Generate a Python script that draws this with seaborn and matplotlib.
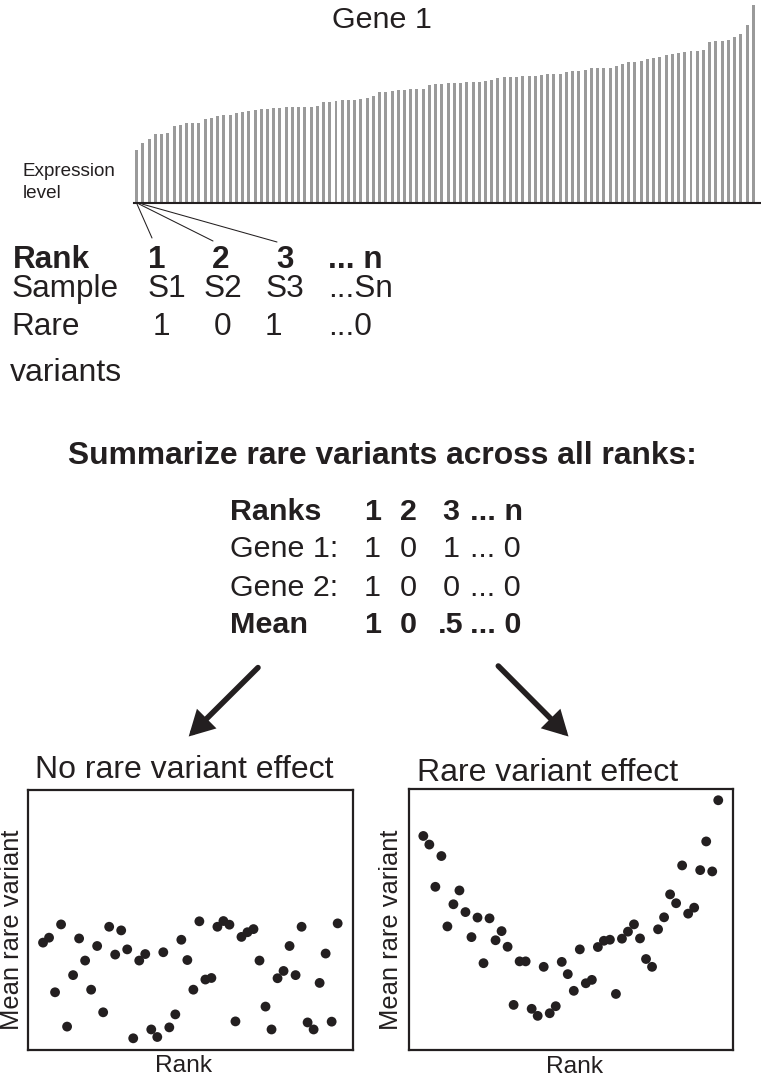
import matplotlib
matplotlib.use("Agg")
import matplotlib.pyplot as plt
import seaborn as sns
import numpy as np
import pandas as pd
from matplotlib import font_manager

# ---------------- data ----------------
ranks_bar = list(range(1, 101))
expression = [53, 59.3, 63.7, 68.7, 69, 69.7, 76.7, 77.3, 79.3, 80, 80, 83.7, 84.3, 86.7, 87.3,
              87.3, 89.7, 90.7, 91.7, 92.7, 93.7, 94, 94.7, 95, 95.3,
              96, 96, 96, 96, 96.7, 101, 101, 101.7, 102.3, 103, 103, 103.7, 104.3, 106.7, 110.7,
              111, 111.7, 112.3, 113, 113.7, 113.7, 113.7, 117.7, 118.3, 118.7,
              119.3, 119.7, 120, 120.3, 120.7, 121, 121.7, 122.3, 124.3, 125.7, 125.7, 126, 126.3,
              126.7, 127, 127.7, 128.7, 128.7, 128.7, 131, 132, 132, 132.3, 135, 135,
              135, 135, 136.7, 139, 140.3, 141, 141.3, 143.3, 145, 146, 147.7, 149, 150, 150.7,
              151.3, 151.7, 152.3, 161, 161.3, 161.3, 162.3, 165.7, 168.7, 178, 197.3]

ranks_scatter = list(range(1, 51))
no_effect = [0.413, 0.432, 0.222, 0.483, 0.090, 0.288, 0.429, 0.344, 0.232, 0.400,
             0.145, 0.474, 0.367, 0.460, 0.387, 0.045, 0.344, 0.369, 0.079, 0.050,
             0.376, 0.087, 0.137, 0.424, 0.346, 0.232, 0.495, 0.271, 0.277, 0.474,
             0.496, 0.482, 0.110, 0.435, 0.453, 0.465, 0.344, 0.167, 0.079, 0.276,
             0.304, 0.400, 0.288, 0.474, 0.106, 0.079, 0.258, 0.371, 0.109, 0.487]
effect = [0.821, 0.788, 0.626, 0.744, 0.474, 0.559, 0.612, 0.529, 0.433, 0.508,
          0.333, 0.505, 0.421, 0.456, 0.396, 0.173, 0.340, 0.340, 0.158, 0.131,
          0.319, 0.141, 0.168, 0.338, 0.291, 0.227, 0.386, 0.256, 0.269, 0.395,
          0.419, 0.423, 0.215, 0.427, 0.454, 0.482, 0.428, 0.349, 0.319, 0.463,
          0.509, 0.597, 0.563, 0.708, 0.523, 0.546, 0.690, 0.800, 0.685, 0.958]

rank_labels = ["1", "2", "3", "... n"]
sample_labels = ["S1", "S2", "S3", "...Sn"]
rare_labels = ["1", "0", "1", "...0"]
table_ranks = ["1", "2", "3", "... n"]
gene1_vals = ["1", "0", "1", "... 0"]
gene2_vals = ["1", "0", "0", "... 0"]
mean_vals = ["1", "0", ".5", "... 0"]

# ---------------- style ----------------
sns.set_style("white")
plt.rcParams["font.family"] = ["Liberation Sans", "DejaVu Sans"]
INK = "#231f20"
BAR = "#9a9a9a"

W, H = 761, 1082
fig = plt.figure(figsize=(W / 100, H / 100), dpi=100)


def fx(x):
    return x / W


def fy(y):
    return 1 - y / H


def add_ax(left, right, top, bottom):
    return fig.add_axes([fx(left), fy(bottom), (right - left) / W, (bottom - top) / H])


def pt(px):
    return px * 0.72


def txt(x, y, s, size_px, bold=False, ha="left", va="baseline", **kw):
    fig.text(fx(x), fy(y), s, fontsize=pt(size_px), fontweight="bold" if bold else "normal",
             ha=ha, va=va, color=INK, **kw)


# ---------------- bar chart ----------------
axb = add_ax(134, 761, 0, 202.7)
dfb = pd.DataFrame({"rank": ranks_bar, "expr": expression})
sns.barplot(data=dfb, x="rank", y="expr", color=BAR, width=0.48, saturation=1,
            errorbar=None, linewidth=0, ax=axb)
axb.set_xlim(-0.434, 100.24)
axb.set_ylim(0, 202.7)
axb.set_xticks([])
axb.set_yticks([])
axb.set_xlabel("")
axb.set_ylabel("")
for s in ["top", "left", "right"]:
    axb.spines[s].set_visible(False)
axb.spines["bottom"].set_linewidth(1.5)
axb.spines["bottom"].set_color(INK)
axb.patch.set_alpha(0)

txt(381.7, 27.5, "Gene 1", 30.5, ha="center")
txt(22.7, 176, "Expression", 18.9)
txt(22.7, 197.5, "level", 18.9)

# connector lines
for (x0, x1, y1) in [(137, 152, 238), (139, 213, 241), (142, 277, 242)]:
    fig.add_artist(plt.Line2D([fx(x0), fx(x1)], [fy(204), fy(y1)], color=INK, lw=0.75))

# rank table
txt(13, 268, "Rank", 31.5, bold=True)
for x, s in zip([157, 221, 285], rank_labels[:3]):
    txt(x, 268, s, 31.5, bold=True, ha="center")
txt(328, 268, rank_labels[3], 31.5, bold=True)

txt(11.7, 297.3, "Sample", 31.5)
for x, s in zip([166.7, 223.3, 285], sample_labels[:3]):
    txt(x, 297.3, s, 31.5, ha="center")
txt(328, 297.3, sample_labels[3], 31.5)

txt(11.7, 335, "Rare", 31.5)
txt(10, 381, "variants", 32)
for x, s in zip([161.7, 223, 273], rare_labels[:3]):
    txt(x, 335, s, 31.5, ha="center")
txt(328, 335, rare_labels[3], 31.5)

# summary
txt(382, 464.5, "Summarize rare variants across all ranks:", 31.8, bold=True, ha="center")

TS = 30.5
rows = [(520, "Ranks", True, table_ranks),
        (557, "Gene 1:", False, gene1_vals),
        (595.7, "Gene 2:", False, gene2_vals),
        (633, "Mean", True, mean_vals)]
for y, lab, b, vals in rows:
    txt(230, y, lab, TS, bold=b)
    for x, s in zip([372.5, 408, 451], vals[:3]):
        txt(x, y, s, TS, bold=b, ha="center")
    txt(470, y, vals[3], TS, bold=b)

# arrows
for (x0, y0, x1, y1) in [(258, 667.6, 188.7, 736.5), (498.3, 666, 568.5, 736.5)]:
    fig.add_artist(matplotlib.patches.FancyArrowPatch(
        (fx(x0), fy(y0)), (fx(x1), fy(y1)), transform=fig.transFigure,
        arrowstyle="-|>,head_length=0.55,head_width=0.3", mutation_scale=22,
        lw=4, color=INK, shrinkA=0, shrinkB=0, joinstyle="miter"))

# ---------------- scatter plots ----------------
narrow_ok = True
try:
    font_manager.findfont(font_manager.FontProperties(family="Liberation Sans Narrow"),
                          fallback_to_default=False)
except Exception:
    narrow_ok = False


def scatter_panel(left, right, top, bottom, vals, xlim, title, tx, tby, ylx, rank_x, rank_by):
    ax = add_ax(left, right, top, bottom)
    df = pd.DataFrame({"rank": ranks_scatter, "mean": vals})
    sns.scatterplot(data=df, x="rank", y="mean", color=INK, s=50, edgecolor="none",
                    linewidth=0, ax=ax, legend=False)
    ax.set_xlim(*xlim)
    ax.set_ylim(0, 1)
    ax.set_xticks([])
    ax.set_yticks([])
    ax.set_xlabel("")
    ax.set_ylabel("")
    for s in ax.spines.values():
        s.set_visible(True)
        s.set_linewidth(1.6)
        s.set_color(INK)
    txt(tx, tby, title, 32)
    txt(rank_x, rank_by, "Rank", 24.5, ha="center")
    if narrow_ok:
        fig.text(fx(ylx), fy(930), "Mean rare variant", fontsize=pt(30),
                 family=["Liberation Sans Narrow", "Liberation Sans"],
                 rotation=90, ha="center", va="center", color=INK)
    else:
        fig.text(fx(ylx), fy(930), "Mean rare variant", fontsize=pt(25.5),
                 rotation=90, ha="center", va="center", color=INK)
    return ax


scatter_panel(28.3, 353.3, 790, 1050, no_effect, (-1.45, 52.6),
              "No rare variant effect", 35, 778, 12.5, 184, 1071.7)
scatter_panel(409.3, 733.3, 789.3, 1050, effect, (-1.33, 52.5),
              "Rare variant effect", 416.7, 780.7, 391, 575, 1073)

fig.savefig("out.png", dpi=100)
